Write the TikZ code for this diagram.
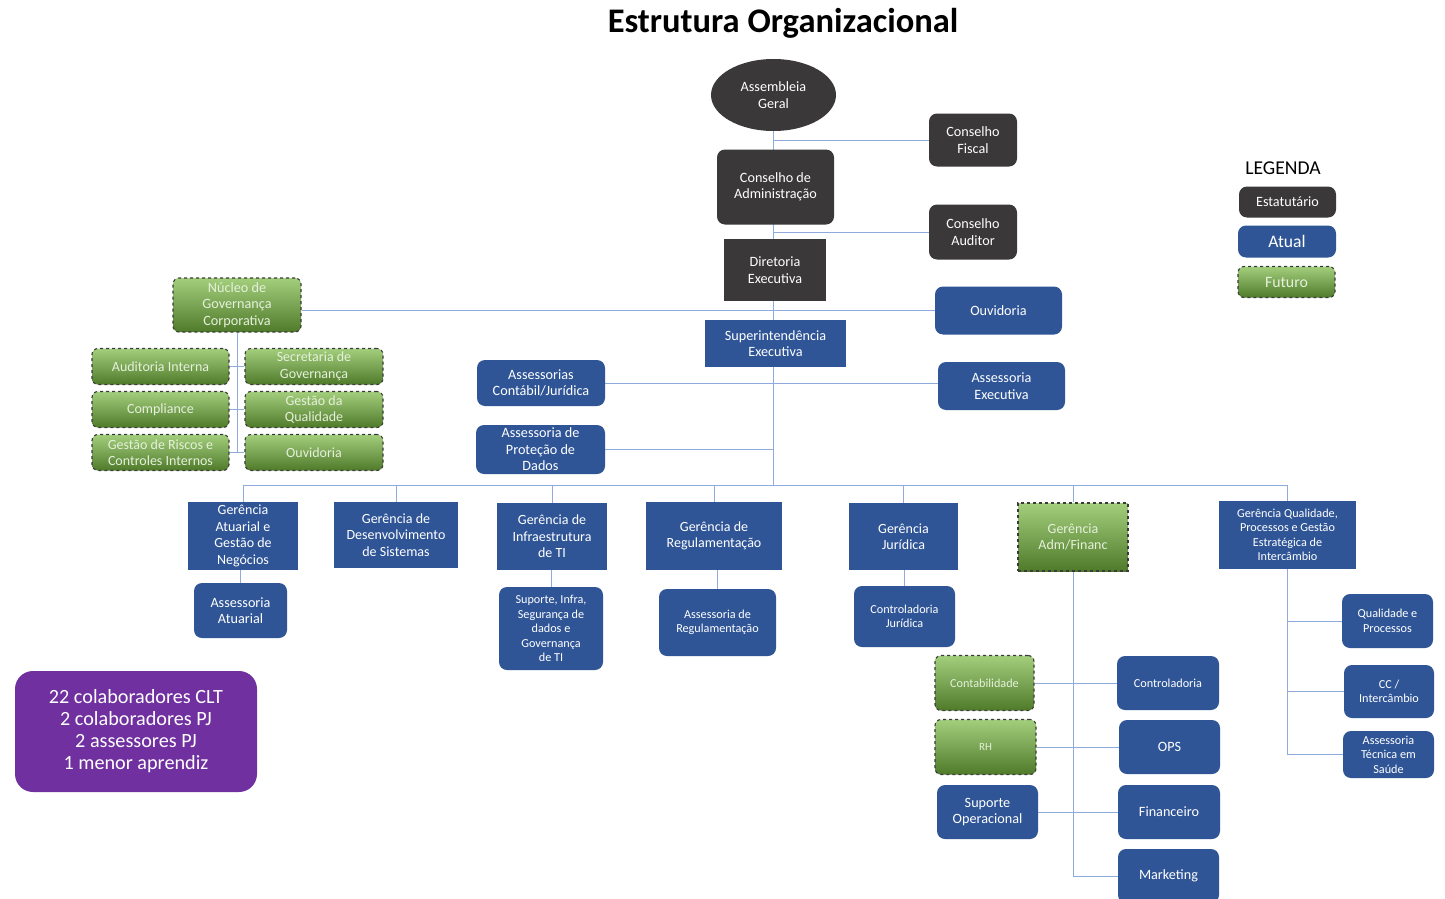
\documentclass[tikz,border=0pt]{standalone}
\usepackage{fontspec}
\setmainfont{Carlito}
\usetikzlibrary{shapes.geometric}
\pgfdeclarelayer{back}
\pgfdeclarelayer{bg}
\pgfsetlayers{back,bg,main}
\definecolor{dk}{HTML}{3A3838}
\definecolor{bl}{HTML}{2F5597}
\definecolor{ln}{HTML}{8FAADC}
\definecolor{pu}{HTML}{7030A0}
\definecolor{grt}{RGB}{163,207,125}
\definecolor{grb}{RGB}{78,122,42}
\definecolor{grd}{HTML}{3A3A3A}
\definecolor{grtx}{HTML}{E6F0DC}
\tikzset{
  base/.style={inner sep=1pt, align=center, text=white, font=\fontsize{14.2}{16.5}\selectfont},
  wh/.style 2 args={minimum width=#1pt, minimum height=#2pt},
  dkr/.style={base, fill=dk, rounded corners=8pt},
  dks/.style={base, fill=dk},
  blr/.style={base, fill=bl, rounded corners=8pt},
  bls/.style={base, fill=bl},
  grr/.style={base, top color=grt, bottom color=grb, draw=grd, dashed, line width=1.1pt, rounded corners=6pt, text=grtx},
  grs/.style={base, top color=grt, bottom color=grb, draw=grd, dashed, line width=1.1pt, text=grtx},
  sm/.style={font=\fontsize{12.2}{14.5}\selectfont},
  md/.style={font=\fontsize{14}{16.5}\selectfont},
  gf/.style={font=\fontsize{14}{16.5}\selectfont},
  con/.style={draw=ln, line width=0.9pt},
}
\begin{document}
\begin{tikzpicture}[x=1pt,y=-1pt]
\begin{pgfonlayer}{back}
\fill[white] (0,0) rectangle (1445,899);
\end{pgfonlayer}
\useasboundingbox (0,0) rectangle (1445,899);

\node[font=\fontsize{34.5}{38}\bfseries] (title) at (783,23) {Estrutura Organizacional};

% top hierarchy
\node[dks, ellipse, wh={125}{72}] (asm) at (773.5,95) {Assembleia\\Geral};
\node[dkr, wh={88}{53}] (cf) at (973,140) {Conselho\\Fiscal};
\node[dkr, wh={117}{75}] (ca) at (775.5,187) {Conselho de\\Administração};
\node[dkr, wh={88}{55}] (cau) at (973,232) {Conselho\\Auditor};
\node[dks, wh={102}{62}] (de) at (775,270) {Diretoria\\Executiva};
\node[blr, wh={127}{48}] (ouv) at (998.5,310.5) {Ouvidoria};
\node[bls, wh={141}{47}] (sup) at (775.5,343.5) {Superintendência\\Executiva};
\node[blr, wh={128}{46}] (acj) at (541,383) {Assessorias\\Contábil/Jurídica};
\node[blr, wh={127}{48}] (aex) at (1001.5,386) {Assessoria\\Executiva};
\node[blr, wh={129}{49}] (apd) at (540.5,449.5) {Assessoria de\\Proteção de\\Dados};
\coordinate (bus) at (773.5,485);

% governance cluster
\node[grr, wh={128}{54}] (ngc) at (237,305) {Núcleo de\\Governança\\Corporativa};
\node[grr, md, wh={137}{36}] (ai) at (160.5,366.5) {Auditoria Interna};
\node[grr, md, wh={138}{36}] (sg) at (314,366.5) {Secretaria de\\Governança};
\node[grr, md, wh={137}{36}] (comp) at (160.5,409.5) {Compliance};
\node[grr, md, wh={138}{36}] (gq) at (314,409.5) {Gestão da\\Qualidade};
\node[grr, md, wh={137}{36}] (grc) at (160.5,452.5) {Gestão de Riscos e\\Controles Internos};
\node[grr, md, wh={138}{36}] (ouv2) at (314,452.5) {Ouvidoria};

% gerências
\node[bls, gf, wh={110}{68}] (g1) at (243,536) {Gerência\\Atuarial e\\Gestão de\\Negócios};
\node[bls, gf, wh={124}{66}] (g2) at (396,535) {Gerência de\\Desenvolvimento\\de Sistemas};
\node[bls, gf, wh={110}{67}] (g3) at (552,536.5) {Gerência de\\Infraestrutura\\de TI};
\node[bls, gf, wh={136}{68}] (g4) at (714,536) {Gerência de\\Regulamentação};
\node[bls, gf, wh={109}{67}] (g5) at (903.5,536.5) {Gerência\\Jurídica};
\node[grs, gf, wh={110}{68}] (g6) at (1073,537) {Gerência\\Adm/Financ};
\node[bls, sm, wh={137}{68}] (g7) at (1287.5,535) {Gerência Qualidade,\\Processos e Gestão\\Estratégica de\\Intercâmbio};

% sub units
\node[blr, wh={93}{55}] (aa) at (240.5,610.5) {Assessoria\\Atuarial};
\node[blr, sm, wh={104}{83}] (sit) at (551,628.5) {Suporte, Infra,\\Segurança de\\dados e\\Governança\\de TI};
\node[blr, sm, wh={117}{67}] (ar) at (717.5,622.5) {Assessoria de\\Regulamentação};
\node[blr, sm, wh={101}{61}] (cj) at (904.5,616.5) {Controladoria\\Jurídica};

\node[grr, sm, wh={99}{55}] (cont) at (984.5,683) {Contabilidade};
\node[blr, sm, wh={102}{54}] (ctrl) at (1168,683) {Controladoria};
\node[grr, font=\fontsize{11}{13}\selectfont, wh={101}{55}] (rh) at (985.5,747) {RH};
\node[blr, wh={101}{54}] (ops) at (1169.5,747) {OPS};
\node[blr, wh={101}{54}] (so) at (987.5,812) {Suporte\\Operacional};
\node[blr, wh={102}{54}] (fin) at (1169,812) {Financeiro};
\node[blr, wh={101}{54}] (mkt) at (1168.5,876) {Marketing};

\node[blr, sm, wh={91}{54}] (qp) at (1387.5,621) {Qualidade e\\Processos};
\node[blr, sm, wh={90}{53}] (cci) at (1389,691.5) {CC /\\Intercâmbio};
\node[blr, sm, wh={91}{47}] (ats) at (1388.5,754.5) {Assessoria\\Técnica em\\Saúde};

% legend
\node[font=\fontsize{19.6}{22}\selectfont] (legt) at (1283,168) {LEGENDA};
\node[dkr, wh={97}{31}] (l1) at (1287.5,202) {Estatutário};
\node[blr, font=\fontsize{17.6}{19}\selectfont, wh={98}{32}] (l2) at (1287,241.5) {Atual};
\node[grr, font=\fontsize{15.8}{18}\selectfont, wh={97}{31}] (l3) at (1286.5,282) {Futuro};

% purple info
\node[base, fill=pu, rounded corners=18pt, wh={242}{121}, font=\fontsize{20.2}{22}\selectfont] (info) at (136,731.5)
  {22 colaboradores CLT\\2 colaboradores PJ\\2 assessores PJ\\1 menor aprendiz};

% connectors
\begin{pgfonlayer}{bg}
\draw[con] (asm.south) -- (asm.south |- bus);
\draw[con] (cf.west) -- (cf.west -| asm.south);
\draw[con] (cau.west) -- (cau.west -| asm.south);
\draw[con] (ouv.west) -- (ouv.west -| ngc.east);
\draw[con] (acj.east) -- (acj.east -| aex.west);
\draw[con] (apd.east) -- (apd.east -| bus);
\draw[con] (ngc.south) -- (ngc.south |- grc.east);
\draw[con] (ai.east) -- (sg.west);
\draw[con] (comp.east) -- (gq.west);
\draw[con] (grc.east) -- (ouv2.west);
\draw[con] (g1.north) |- (g7.north |- bus) -- (g7.north);
\foreach \g in {g2,g3,g4,g5,g6} \draw[con] (\g.north) -- (\g.north |- bus);
\draw[con] (aa.north) -- (aa.north |- g1.south);
\draw[con] (sit.north) -- (sit.north |- g3.south);
\draw[con] (ar.north) -- (ar.north |- g4.south);
\draw[con] (cj.north) -- (cj.north |- g5.south);
\draw[con] (g6.south) |- (mkt.west);
\draw[con] (cont.east) -- (ctrl.west);
\draw[con] (rh.east) -- (ops.west);
\draw[con] (so.east) -- (fin.west);
\draw[con] (g7.south) |- (ats.west);
\draw[con] (qp.west) -- (qp.west -| g7.south);
\draw[con] (cci.west) -- (cci.west -| g7.south);
\end{pgfonlayer}
\end{tikzpicture}
\end{document}
